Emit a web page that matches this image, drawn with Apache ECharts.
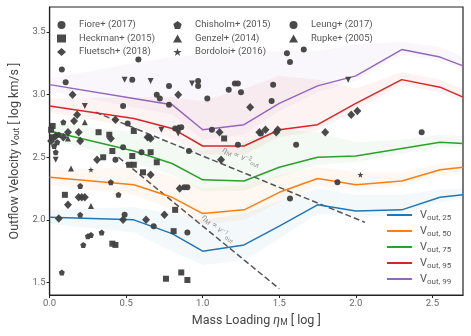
<!DOCTYPE html>
<html>
<head>
<meta charset="utf-8">
<script src="https://cdn.jsdelivr.net/npm/echarts@6/dist/echarts.min.js"></script>
<style>
  html, body { margin: 0; padding: 0; background: #fff; }
  #chart { width: 471px; height: 336px; }
</style>
</head>
<body>
<div id="chart"></div>
<script>
// bins along mass loading (log eta_M)
var etaBins = [0, 0.55, 0.8, 1.0, 1.27, 1.5, 1.75, 2.0, 2.3, 2.55, 2.7];

// percentile curves of v_out (log km/s)
var v25 = [2.02, 2.00, 1.89, 1.75, 1.80, 1.95, 2.12, 2.07, 2.08, 2.18, 2.20];
var v50 = [2.34, 2.28, 2.18, 2.05, 2.08, 2.22, 2.33, 2.28, 2.31, 2.40, 2.42];
var v75 = [2.71, 2.55, 2.45, 2.32, 2.31, 2.42, 2.50, 2.51, 2.57, 2.62, 2.61];
var v95 = [2.91, 2.81, 2.73, 2.59, 2.59, 2.72, 2.76, 2.93, 3.12, 3.06, 2.98];
var v99 = [3.08, 2.97, 2.92, 2.72, 2.76, 2.93, 3.07, 3.15, 3.36, 3.30, 3.23];

// shaded ranges around each curve
var lo25 = [1.97, 1.90, 1.75, 1.64, 1.68, 1.85, 2.05, 2.02, 2.04, 2.14, 2.17];
var hi25 = [2.08, 2.10, 2.05, 2.00, 2.05, 2.15, 2.25, 2.20, 2.20, 2.24, 2.25];
var lo50 = [2.28, 2.20, 2.08, 1.96, 2.00, 2.14, 2.27, 2.24, 2.27, 2.36, 2.39];
var hi50 = [2.40, 2.42, 2.35, 2.25, 2.28, 2.36, 2.42, 2.38, 2.38, 2.45, 2.47];
var lo75 = [2.65, 2.46, 2.36, 2.23, 2.23, 2.34, 2.44, 2.46, 2.53, 2.58, 2.58];
var hi75 = [2.78, 2.70, 2.62, 2.55, 2.62, 2.72, 2.70, 2.62, 2.64, 2.68, 2.67];
var lo95 = [2.86, 2.74, 2.65, 2.52, 2.52, 2.66, 2.71, 2.88, 3.08, 3.02, 2.95];
var hi95 = [2.97, 2.98, 2.98, 2.95, 3.05, 3.15, 3.12, 3.05, 3.18, 3.12, 3.05];
var lo99 = [3.03, 2.90, 2.84, 2.64, 2.68, 2.87, 3.02, 3.11, 3.32, 3.27, 3.20];
var hi99 = [3.13, 3.25, 3.30, 3.32, 3.33, 3.35, 3.35, 3.40, 3.42, 3.38, 3.30];

// observations [log eta, log v]
var fiore = [[0.08,3.20],[0.105,3.10],[0.58,3.28],[0.78,3.07],[0.97,3.11],[0.97,3.07],[0.70,3.00],[0.72,2.97],
  [1.03,2.97],[1.17,3.04],[1.21,3.09],[1.23,3.09],[0.78,2.92],[1.25,3.02],[1.55,3.33],[1.66,3.36],[1.57,3.26],
  [1.46,3.08],[1.45,2.95],[2.43,2.70],[1.61,2.60],[1.06,2.72],[1.23,2.60],[1.38,2.69]];
var heckman = [[0.02,2.75],[0.55,2.71],[0.02,2.66],[0.32,2.70],[0.39,2.68],[0.41,2.55],[0.66,2.54],[0.54,2.51],
  [0.70,2.46],[0.35,2.50],[0.52,2.44],[0.55,2.44],[0.61,2.38],[0.10,2.20],[0.82,2.08],[0.41,1.81],[0.43,1.80],
  [0.81,1.91],[0.76,1.53],[0.86,1.58],[0.90,1.52],[1.14,2.65],[0.01,2.72]];
var fluetsch = [[0.15,3.00],[0.84,3.00],[0.18,2.84],[0.16,2.79],[0.43,2.80],[0.84,2.73],[0.04,2.67],[0.12,2.70],
  [0.19,2.70],[0.20,2.63],[0.40,2.65],[0.64,2.66],[0.66,2.65],[1.12,2.48],[0.31,2.48],[0.66,2.36],[0.85,2.25],
  [0.19,2.18],[0.21,2.18],[0.23,2.18],[0.12,2.12],[0.75,2.04],[0.06,2.01],[0.48,2.00],[0.63,2.00],[1.31,2.90],
  [1.11,2.70],[1.97,2.84],[2.01,2.87],[1.37,2.70],[1.41,2.72],[1.48,2.70],[1.49,2.72],[1.80,2.70],[0.01,2.63],[0.09,2.66]];
var chisholm = [[0.09,2.78],[0.04,2.54],[0.03,2.59],[0.20,2.27],[0.20,2.04],[0.25,1.87],[0.27,1.88],[0.22,1.80],
  [0.34,1.90],[0.08,1.58],[0.40,2.30],[0.45,2.20],[0.06,2.68],[0.05,2.62]];
var genzel = [[0.49,3.12],[0.66,3.11],[0.93,3.09],[0.23,2.91],[0.73,2.72],[0.84,2.69],[0.04,2.48],[1.95,3.12]];
var bordoloi = [[0.27,2.40],[2.03,2.36]];
var leung = [[0.54,3.12],[0.48,2.91],[0.51,2.77],[0.82,2.73],[0.86,2.74],[0.65,2.66],[0.48,2.58],[0.60,2.54],
  [0.91,2.55],[0.43,2.48],[0.88,2.26],[0.90,2.26],[0.49,2.04],[0.68,1.95],[0.90,1.90],[1.88,2.30],[1.57,2.17]];
var rupke = [[0.23,2.78],[0.12,2.65],[0.14,2.41],[0.27,2.11]];

// reference relations (end points)
var relV2 = [[0.30, 2.86], [2.06, 1.98]];
var relV1 = [[0.45, 2.50], [1.50, 1.45]];
var relV2Label = [[1.25, 2.50]];
var relV1Label = [[1.10, 1.93]];

var xTicks = [0, 0.5, 1.0, 1.5, 2.0, 2.5];
var yTicks = [1.5, 2.0, 2.5, 3.0, 3.5];

var pentagon = 'path://M0,-1 L0.951,-0.309 L0.588,0.809 L-0.588,0.809 L-0.951,-0.309 Z';
var star = 'path://M0,-1 L0.224,-0.309 L0.951,-0.309 L0.363,0.118 L0.588,0.809 L0,0.382 L-0.588,0.809 L-0.363,0.118 L-0.951,-0.309 L-0.224,-0.309 Z';

var markColor = '#404040';
var curveNames = ['25', '50', '75', '95', '99'];
var curveColors = ['#1f77b4', '#ff7f0e', '#2ca02c', '#d62728', '#9467bd'];
var curves = [v25, v50, v75, v95, v99];
var los = [lo25, lo50, lo75, lo95, lo99];
var his = [hi25, hi50, hi75, hi95, hi99];

function pairs(xs, ys) {
  return xs.map(function (x, i) { return [x, ys[i]]; });
}
function hexA(hex, a) {
  var n = parseInt(hex.slice(1), 16);
  return 'rgba(' + (n >> 16) + ',' + ((n >> 8) & 255) + ',' + (n & 255) + ',' + a + ')';
}

var series = [];
// bands, drawn as polygons through the axis scales
curves.forEach(function (c, k) {
  series.push({
    type: 'custom', silent: true, z: 1,
    data: [[etaBins[0], los[k][0]]],
    renderItem: function (params, api) {
      var pts = [];
      etaBins.forEach(function (x, i) { pts.push(api.coord([x, his[k][i]])); });
      for (var i = etaBins.length - 1; i >= 0; i--) pts.push(api.coord([etaBins[i], los[k][i]]));
      return { type: 'polygon', shape: { points: pts }, style: { fill: hexA(curveColors[k], 0.055) } };
    }
  });
});
// percentile curves
curves.forEach(function (c, k) {
  series.push({
    type: 'line', name: 'v' + curveNames[k], symbol: 'none', z: 3,
    data: pairs(etaBins, c), color: curveColors[k],
    lineStyle: { width: 1.5, color: curveColors[k] }
  });
});
// reference relations
[relV2, relV1].forEach(function (d) {
  series.push({
    type: 'line', symbol: 'none', silent: true, z: 2, data: d,
    lineStyle: { color: '#555', width: 1.5, type: [6, 3] }
  });
});
var relLabelStyle = {
  show: true, position: 'inside', color: '#777', fontSize: 8,
  rich: {
    i: { fontStyle: 'italic', fontSize: 8.5, color: '#777' },
    sub: { fontSize: 6, color: '#777', verticalAlign: 'bottom', lineHeight: 10 },
    sup: { fontSize: 6, color: '#777', verticalAlign: 'top', lineHeight: 10 }
  }
};
series.push({
  type: 'scatter', symbolSize: 0, silent: true, z: 4, data: relV2Label,
  label: Object.assign({}, relLabelStyle, { rotate: -22, formatter: '{i|η}{sub|M} ∝ {i|v}{sup|−2}{sub|out}' })
});
series.push({
  type: 'scatter', symbolSize: 0, silent: true, z: 4, data: relV1Label,
  label: Object.assign({}, relLabelStyle, { rotate: -39, formatter: '{i|η}{sub|M} ∝ {i|v}{sup|−1}{sub|out}' })
});
// observations
function obs(name, data, symbol, size, rot) {
  return {
    type: 'scatter', name: name, data: data, symbol: symbol, symbolSize: size,
    symbolRotate: rot || 0, z: 5, itemStyle: { color: markColor, opacity: 0.95 }
  };
}
series.push(obs('Fiore+ (2017)', fiore, 'circle', 6));
series.push(obs('Heckman+ (2015)', heckman, 'rect', 6));
series.push(obs('Fluetsch+ (2018)', fluetsch, 'diamond', [8, 8.5]));
series.push(obs('Chisholm+ (2015)', chisholm, pentagon, 6));
series.push(obs('Genzel+ (2014)', genzel, 'triangle', 6, 180));
series.push(obs('Bordoloi+ (2016)', bordoloi, star, 6));
series.push(obs('Leung+ (2017)', leung, 'circle', 6));
series.push(obs('Rupke+ (2005)', rupke, 'triangle', 6));

var obsLegendBase = {
  orient: 'vertical', top: 14, itemWidth: 9, itemHeight: 8, itemGap: 1.5,
  formatter: function (name) { return '{g| }{t|' + name + '}'; },
  textStyle: {
    fontFamily: 'Roboto', fontSize: 9.5, color: '#555', lineHeight: 12,
    rich: {
      g: { width: 8, fontSize: 9.5 },
      t: { fontFamily: 'Roboto', fontSize: 9.5, color: '#555', lineHeight: 12 }
    }
  }
};

var chart = echarts.init(document.getElementById('chart'));
chart.setOption({
  animation: false,
  textStyle: { fontFamily: 'Roboto' },
  grid: { left: 43, right: 8, top: 7, bottom: 41, show: true, borderColor: '#222', borderWidth: 1.2 },
  legend: [
    Object.assign({ left: 52, data: ['Fiore+ (2017)', 'Heckman+ (2015)', 'Fluetsch+ (2018)'] }, obsLegendBase),
    Object.assign({ left: 168, data: ['Chisholm+ (2015)', 'Genzel+ (2014)', 'Bordoloi+ (2016)'] }, obsLegendBase),
    Object.assign({ left: 284, data: ['Leung+ (2017)', 'Rupke+ (2005)'] }, obsLegendBase),
    {
      orient: 'vertical', left: 382, top: 203, icon: 'rect', itemWidth: 25, itemHeight: 2, itemGap: 2,
      data: curveNames.map(function (n) { return 'v' + n; }),
      formatter: function (name) { return '{v|V}{s|out, ' + name.slice(1) + '}'; },
      textStyle: {
        color: '#555', lineHeight: 14, padding: [0, 0, 0, 3],
        rich: {
          v: { fontSize: 11, color: '#555', fontFamily: 'Roboto' },
          s: { fontSize: 8, color: '#555', fontFamily: 'Roboto', verticalAlign: 'bottom', lineHeight: 14, padding: [4, 0, 0, 0] }
        }
      }
    }
  ],
  xAxis: {
    type: 'value', min: 0, max: 2.7,
    name: '{t|Mass Loading }{i|η}{s|M}{t| [ log ]}', nameLocation: 'middle', nameGap: 17,
    nameTextStyle: {
      rich: {
        t: { fontSize: 12.5, color: '#444' },
        i: { fontSize: 12.5, color: '#444', fontStyle: 'italic' },
        s: { fontSize: 8.5, color: '#444', verticalAlign: 'bottom', padding: [5, 0, 0, 0] }
      }
    },
    axisLine: { lineStyle: { color: '#222', width: 1.2 } },
    axisTick: { length: 3, lineStyle: { color: '#222' }, customValues: xTicks },
    axisLabel: { fontSize: 9.5, color: '#666', margin: 4, customValues: xTicks,
      formatter: function (v) { return v.toFixed(1); } },
    splitLine: { show: false }
  },
  yAxis: {
    type: 'value', min: 1.4, max: 3.7,
    name: '{t|Outflow Velocity }{i|v}{s|out}{t| [ log km/s ]}', nameLocation: 'middle', nameGap: 22,
    nameTextStyle: {
      rich: {
        t: { fontSize: 12.5, color: '#444' },
        i: { fontSize: 12.5, color: '#444', fontStyle: 'italic' },
        s: { fontSize: 8.5, color: '#444', verticalAlign: 'bottom', padding: [5, 0, 0, 0] }
      }
    },
    axisLine: { lineStyle: { color: '#222', width: 1.2 } },
    axisTick: { length: 3, lineStyle: { color: '#222' }, customValues: yTicks },
    axisLabel: { fontSize: 9.5, color: '#666', margin: 4, customValues: yTicks,
      formatter: function (v) { return v.toFixed(1); } },
    splitLine: { show: false }
  },
  series: series
});
</script>
</body>
</html>
